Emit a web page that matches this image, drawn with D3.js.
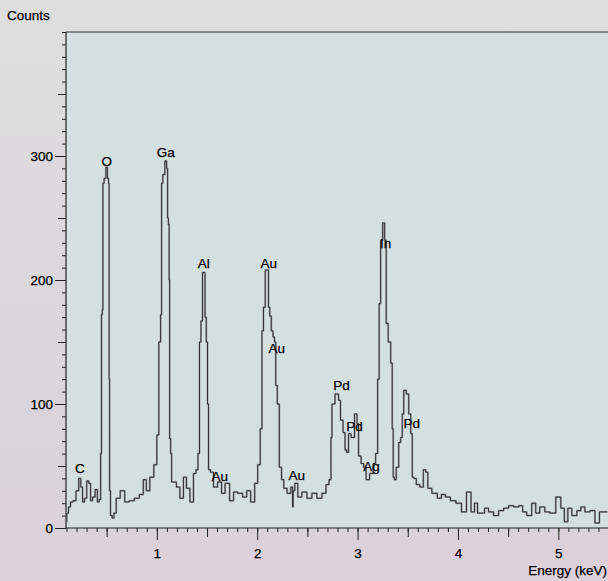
<!DOCTYPE html>
<html>
<head>
<meta charset="utf-8">
<script src="https://cdn.jsdelivr.net/npm/d3@7"></script>
<style>
  html, body { margin: 0; padding: 0; background: #dcdadc; }
  svg { display: block; }
  text { font-family: "Liberation Sans", Arial, sans-serif; fill: #000; stroke: #000; stroke-width: 0.25px; }
</style>
</head>
<body>
<svg id="chart" width="608" height="581"></svg>
<script>
// ---- data ----
const energy = [0.095,0.11,0.13,0.15,0.18,0.21,0.234,0.25,0.27,0.29,0.313,0.33,0.35,0.37,0.40,0.415,0.435,0.445,0.452,0.46,0.465,0.485,0.50,0.515,0.522,0.527,0.532,0.545,0.565,0.58,0.61,0.66,0.70,0.75,0.80,0.85,0.88,0.91,0.95,0.99,1.01,1.03,1.045,1.05,1.07,1.09,1.105,1.11,1.12,1.125,1.13,1.145,1.15,1.18,1.21,1.25,1.28,1.31,1.35,1.38,1.40,1.42,1.43,1.45,1.46,1.475,1.485,1.50,1.51,1.52,1.55,1.58,1.63,1.66,1.70,1.75,1.78,1.83,1.88,1.91,1.96,1.99,2.02,2.04,2.055,2.07,2.09,2.105,2.12,2.13,2.15,2.165,2.18,2.19,2.21,2.23,2.255,2.275,2.32,2.35,2.355,2.36,2.39,2.42,2.47,2.52,2.57,2.62,2.67,2.70,2.73,2.74,2.75,2.80,2.82,2.84,2.87,2.88,2.90,2.92,2.95,2.99,3.00,3.02,3.05,3.07,3.10,3.14,3.17,3.19,3.21,3.22,3.24,3.26,3.28,3.29,3.32,3.34,3.35,3.36,3.37,3.40,3.42,3.44,3.45,3.47,3.50,3.52,3.54,3.55,3.57,3.60,3.64,3.67,3.69,3.71,3.77,3.82,3.85,3.90,3.95,4.01,4.06,4.11,4.15,4.18,4.21,4.25,4.28,4.33,4.38,4.43,4.48,4.53,4.58,4.63,4.66,4.71,4.76,4.79,4.84,4.89,4.94,5.01,5.04,5.08,5.11,5.16,5.21,5.24,5.29,5.34,5.39,5.43,5.49];
const counts = [5,12,17,21,22,30,40,33,21,24,38,36,22,25,31,21,23,60,172,176,278,282,291,282,278,120,30,10,8,12,24,30,21,22,24,27,39,30,41,51,75,150,172,278,285,296,290,250,245,200,72,60,37,37,33,24,41,32,21,44,47,60,150,167,206,206,170,150,100,47,45,33,37,28,36,22,29,28,25,30,21,36,51,80,159,178,208,208,178,171,159,154,150,115,100,49,39,32,28,33,17,30,36,25,29,24,28,24,28,35,39,73,100,108,103,87,77,63,61,76,73,92,84,58,52,49,39,44,52,60,120,181,232,246,232,165,150,133,80,41,39,49,69,73,92,111,108,92,76,41,40,35,33,47,45,32,28,24,27,25,22,20,13,29,13,20,12,12,16,13,10,14,16,18,17,18,13,10,20,12,17,13,12,25,16,5,16,10,14,17,13,14,4,13,13];

const peakLabels = ["C","O","Ga","Al","Au","Au","Au","Au","Pd","Pd","Ag","In","Pd"];
const labelEnergy = [0.234,0.502,1.09,1.468,2.114,2.194,1.627,2.393,2.84,2.97,3.14,3.28,3.54];
const labelCounts = [44,292,299,210,210,141,38,39,111,78,46,226,81];

const xMajorTicks = [1,2,3,4,5];
const yMajorTicks = [0,100,200,300];
const xTitle = "Energy (keV)";
const yTitle = "Counts";

// ---- layout ----
const svg = d3.select("#chart");
const W = 608, H = 581;
const L = 66, T = 32, R = 608.5, B = 528;

const defs = svg.append("defs");
const grad = defs.append("linearGradient").attr("id","bg").attr("x1",0).attr("y1",0).attr("x2",0).attr("y2",1);
grad.append("stop").attr("offset","0%").attr("stop-color","#dedede");
grad.append("stop").attr("offset","60%").attr("stop-color","#dad6da");
grad.append("stop").attr("offset","100%").attr("stop-color","#dcd0da");
svg.append("rect").attr("width",W).attr("height",H).attr("fill","url(#bg)");

const x = d3.scaleLinear().domain([0.1, 5.5]).range([L + 0.5, R]);
const y = d3.scaleLinear().domain([0, 400]).range([B, T]);

// plot area
svg.append("rect").attr("x",L).attr("y",T).attr("width",W-L).attr("height",B-T).attr("fill","#d4dfe0");

// ---- axes ----
function styleAxis(g){
  g.selectAll(".domain").remove();
  g.selectAll(".tick line").attr("stroke","#222").attr("stroke-width",1);
  g.selectAll(".tick text").style("font-size","13.5px").style("font-family","'Liberation Sans', Arial, sans-serif").attr("fill","#000");
}
const yMinor = d3.range(0, 401, 10);
const yMid = d3.range(50, 400, 100);
svg.append("g").attr("transform",`translate(${L},0)`)
  .call(d3.axisLeft(y).tickValues(yMinor).tickSize(4).tickFormat(""))
  .call(styleAxis);
svg.append("g").attr("transform",`translate(${L},0)`)
  .call(d3.axisLeft(y).tickValues(yMid).tickSize(8).tickFormat(""))
  .call(styleAxis);
svg.append("g").attr("transform",`translate(${L},0)`)
  .call(d3.axisLeft(y).tickValues(yMajorTicks).tickSize(11).tickPadding(2).tickFormat(d3.format("d")))
  .call(styleAxis);

const xMinor = d3.range(1, 55, 1).map(d => d/10).filter(d => d >= 0.1);
const xMid = d3.range(0.5, 5.5, 1);
svg.append("g").attr("transform",`translate(0,${B})`)
  .call(d3.axisBottom(x).tickValues(xMinor).tickSize(4).tickFormat(""))
  .call(styleAxis);
svg.append("g").attr("transform",`translate(0,${B})`)
  .call(d3.axisBottom(x).tickValues(xMid).tickSize(9).tickFormat(""))
  .call(styleAxis);
svg.append("g").attr("transform",`translate(0,${B})`)
  .call(d3.axisBottom(x).tickValues(xMajorTicks).tickSize(12).tickPadding(8).tickFormat(d3.format("d")))
  .call(styleAxis);

// frame lines
svg.append("line").attr("x1",L).attr("x2",L).attr("y1",T).attr("y2",B).attr("stroke","#222").attr("stroke-width",1.2);
svg.append("line").attr("x1",L).attr("x2",W).attr("y1",B).attr("y2",B).attr("stroke","#222").attr("stroke-width",1.2);
svg.append("line").attr("x1",L).attr("x2",W).attr("y1",T).attr("y2",T).attr("stroke","#333").attr("stroke-width",1);

// ---- spectrum ----
const pts = energy.map((e,i) => [e, counts[i]]);
const line = d3.line().x(d => x(d[0])).y(d => y(d[1])).curve(d3.curveStep);
svg.append("path").datum(pts).attr("d", line)
  .attr("fill","none").attr("stroke","#a3a8a9").attr("stroke-width",2).attr("stroke-linejoin","round");
svg.append("path").datum(pts).attr("d", line)
  .attr("fill","none").attr("stroke","#222").attr("stroke-width",0.9).attr("stroke-linejoin","round");

// ---- peak labels ----
svg.append("g").selectAll("text").data(peakLabels).join("text")
  .attr("x",(d,i) => x(labelEnergy[i]))
  .attr("y",(d,i) => y(labelCounts[i]))
  .attr("text-anchor","middle")
  .style("font-size","13.5px")
  .text(d => d);

// ---- titles ----
svg.append("text").attr("x",7).attr("y",20).style("font-size","13.5px").text(yTitle);
svg.append("text").attr("x",607).attr("y",575).attr("text-anchor","end").style("font-size","13.5px").text(xTitle);
</script>
</body>
</html>
